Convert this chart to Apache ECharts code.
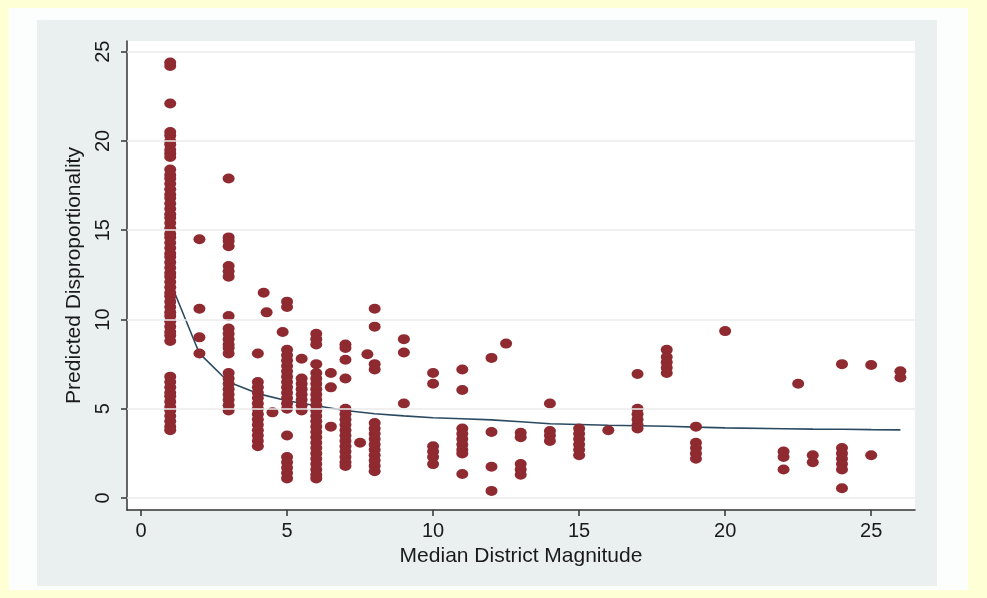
<!DOCTYPE html>
<html>
<head>
<meta charset="utf-8">
<script src="https://cdn.jsdelivr.net/npm/echarts@6/dist/echarts.min.js"></script>
<style>
html, body { margin: 0; padding: 0; background: #FFFFD6; }
#container { width: 987px; height: 598px; }
</style>
</head>
<body>
<div id="container"></div>
<script>
var dom = document.getElementById("container");
var myChart = echarts.init(dom);

// observed points: one x value per column, list of y values
var colX = [1, 2, 3, 4, 4.2, 4.3, 4.5, 4.85, 5, 5.5, 6, 6.5, 7, 7.5, 7.75, 8, 9, 10, 11, 12, 12.5, 13, 14, 15, 16, 17, 18, 19, 20, 22, 22.5, 23, 24, 25, 26];
var colY = [
    [24.4, 24.2, 22.1, 20.5, 20.3, 20.0, 19.8, 19.5, 19.3, 19.1, 18.4, 18.1, 17.9, 17.6, 17.3, 17.0, 16.8, 16.5, 16.2, 15.9, 15.7, 15.4, 15.1, 14.8, 14.6, 14.3, 14.0, 13.7, 13.5, 13.2, 12.9, 12.6, 12.4, 12.1, 11.8, 11.5, 11.3, 11.0, 10.7, 10.4, 10.2, 9.9, 9.6, 9.3, 9.1, 8.8, 6.8, 6.5, 6.2, 5.9, 5.7, 5.4, 5.1, 4.9, 4.6, 4.3, 4.0, 3.8],
    [14.5, 10.6, 9.0, 8.1],
    [17.9, 14.6, 14.4, 14.1, 13.0, 12.7, 12.4, 10.2, 9.5, 9.2, 8.9, 8.6, 8.4, 8.1, 7.0, 6.7, 6.4, 6.1, 5.8, 5.5, 5.2, 4.9],
    [8.1, 6.5, 6.2, 5.9, 5.6, 5.3, 5.0, 4.7, 4.4, 4.1, 3.8, 3.5, 3.2, 2.9],
    [11.5],
    [10.4],
    [4.8],
    [9.3],
    [11.0, 10.7, 8.3, 8.0, 7.7, 7.4, 7.1, 6.8, 6.5, 6.2, 5.9, 5.6, 5.3, 5.0, 3.5, 2.3, 2.0, 1.7, 1.4, 1.1],
    [7.8, 6.7, 6.4, 6.1, 5.8, 5.5, 5.2, 4.9],
    [9.2, 8.9, 8.6, 7.5, 7.0, 6.7, 6.4, 6.1, 5.8, 5.5, 5.2, 4.9, 4.6, 4.3, 4.0, 3.7, 3.4, 3.1, 2.8, 2.5, 2.2, 1.9, 1.6, 1.3, 1.1],
    [7.0, 6.2, 4.0],
    [8.6, 8.4, 7.75, 6.7, 5.0, 4.7, 4.4, 4.1, 3.8, 3.5, 3.2, 2.9, 2.6, 2.3, 2.0, 1.8],
    [3.1],
    [8.05],
    [10.6, 9.6, 7.5, 7.2, 4.2, 3.9, 3.6, 3.3, 3.0, 2.7, 2.4, 2.1, 1.8, 1.5],
    [8.9, 8.15, 5.3],
    [7.0, 6.4, 2.9, 2.6, 2.3, 1.9],
    [7.2, 6.05, 3.9, 3.6, 3.3, 3.0, 2.7, 2.5, 1.35],
    [7.85, 3.7, 1.75, 0.4],
    [8.65],
    [3.65, 3.4, 1.9, 1.6, 1.3],
    [5.3, 3.75, 3.5, 3.2],
    [3.9, 3.6, 3.3, 3.0, 2.7, 2.4],
    [3.8],
    [6.95, 5.0, 4.7, 4.4, 4.1, 3.9],
    [8.3, 7.9, 7.6, 7.3, 7.0],
    [4.0, 3.1, 2.8, 2.5, 2.2],
    [9.35],
    [2.6, 2.3, 1.6],
    [6.4],
    [2.4, 2.0],
    [7.5, 2.8, 2.5, 2.2, 1.9, 1.6, 0.55],
    [7.45, 2.4],
    [7.1, 6.75]
];

// fitted curve
var fitX = [1, 2, 3, 4, 5, 6, 7, 8, 9, 10, 11, 12, 13, 14, 15, 16, 17, 18, 19, 20, 22, 23, 24, 25, 26];
var fitY = [12.1, 8.1, 6.5, 5.85, 5.45, 5.17, 4.9, 4.72, 4.6, 4.5, 4.44, 4.38, 4.27, 4.16, 4.12, 4.08, 4.05, 4.02, 3.97, 3.93, 3.88, 3.86, 3.85, 3.83, 3.82];

var ticks = [0, 5, 10, 15, 20, 25];

var points = [];
colX.forEach(function (x, i) {
    colY[i].forEach(function (y) { points.push([x, y]); });
});
var fitData = fitX.map(function (x, i) { return [x, fitY[i]]; });

var font = 'Liberation Sans, Arial, sans-serif';

option = {
    animation: false,
    backgroundColor: '#FFFFD6',
    graphic: [
        { type: 'rect', z: -10, shape: { x: 9, y: 8, width: 959, height: 582 }, style: { fill: '#FCFEFE' } },
        { type: 'rect', z: -9, shape: { x: 37, y: 20, width: 900, height: 566 }, style: { fill: '#EAF0F0' } }
    ],
    grid: {
        left: 127,
        right: 72,
        top: 41,
        bottom: 88,
        show: true,
        backgroundColor: '#FFFFFF',
        borderWidth: 0
    },
    xAxis: {
        type: 'value',
        min: -0.48,
        max: 26.5,
        name: 'Median District Magnitude',
        nameLocation: 'middle',
        nameGap: 29,
        nameTextStyle: { fontFamily: font, fontSize: 21, color: '#1a1a1a' },
        axisLine: { onZero: false, lineStyle: { color: '#333', width: 1.5 } },
        axisTick: { show: true, length: 6, customValues: ticks, lineStyle: { color: '#333', width: 1.5 } },
        axisLabel: { customValues: ticks, margin: 11, fontFamily: font, fontSize: 20, color: '#1a1a1a' },
        splitLine: { show: false }
    },
    yAxis: {
        type: 'value',
        min: -0.67,
        max: 25.6,
        name: 'Predicted Disproportionality',
        nameLocation: 'middle',
        nameGap: 37,
        nameTextStyle: { fontFamily: font, fontSize: 21, color: '#1a1a1a' },
        axisLine: { show: true, onZero: false, lineStyle: { color: '#333', width: 1.5 } },
        axisTick: { show: true, length: 6, customValues: ticks, lineStyle: { color: '#333', width: 1.5 } },
        axisLabel: { customValues: ticks, rotate: 90, margin: 14, fontFamily: font, fontSize: 20, color: '#1a1a1a' },
        splitLine: { show: false }
    },
    series: [
        {
            name: 'fit',
            type: 'line',
            data: fitData,
            showSymbol: false,
            z: 2,
            lineStyle: { color: '#2B4A62', width: 1.6 },
            markLine: {
                silent: true,
                symbol: 'none',
                label: { show: false },
                lineStyle: { color: '#EBEBEB', width: 1.5, type: 'solid' },
                data: ticks.map(function (t) { return { yAxis: t }; })
            }
        },
        {
            name: 'Predicted Disproportionality',
            type: 'scatter',
            data: points,
            symbol: 'circle',
            symbolSize: [12, 10],
            z: 3,
            itemStyle: { color: '#8E2A30', opacity: 1 }
        }
    ]
};

if (option && typeof option === "object") {
    myChart.setOption(option, true);
}
</script>
</body>
</html>
